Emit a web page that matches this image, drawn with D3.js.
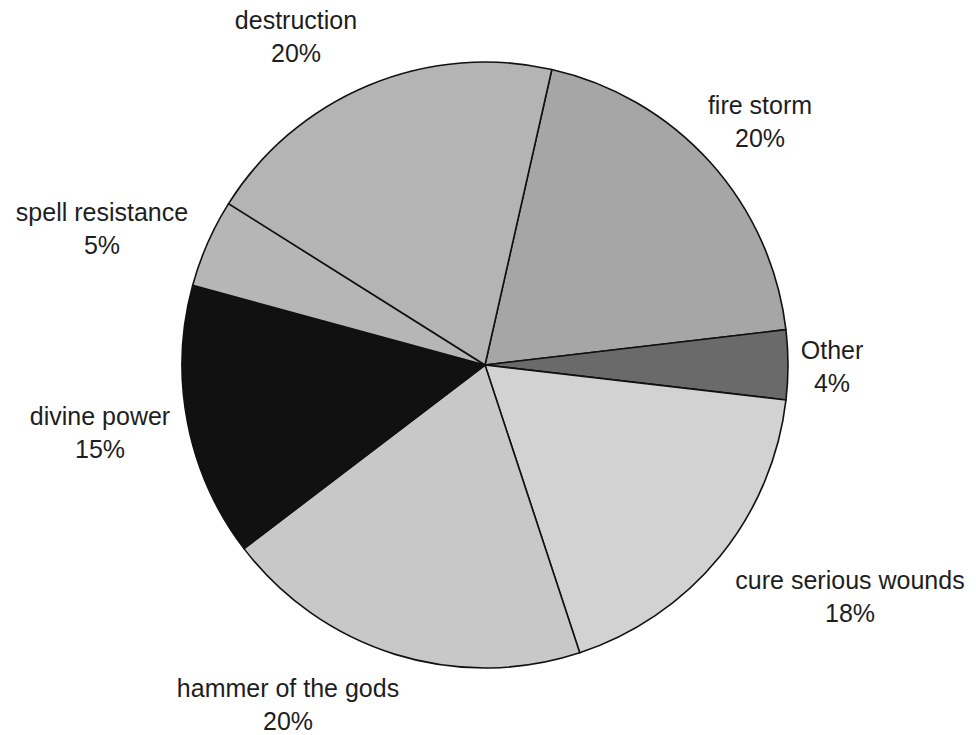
<!DOCTYPE html>
<html>
<head>
<meta charset="utf-8">
<script src="https://cdn.jsdelivr.net/npm/d3@7"></script>
<style>
  html, body { margin: 0; padding: 0; background: #fff; }
  svg { display: block; }
  text { font-family: "Liberation Sans", Arial, sans-serif; fill: #1e1e1e; }
</style>
</head>
<body>
<svg id="chart" width="976" height="735"></svg>
<script>
// Spell usage shares, clockwise from the top
const spells = ["fire storm", "Other", "cure serious wounds", "hammer of the gods",
                "divine power", "spell resistance", "destruction"];
const shares = [19.6, 3.7, 18.1, 19.7, 14.6, 4.7, 19.6];
const fills  = ["#a6a6a6", "#6a6a6a", "#d2d2d2", "#c8c8c8", "#111111", "#b6b6b6", "#b4b4b4"];

// Label anchor points (centre of the two-line label) per slice
const labelPos = [[760, 122], [832, 367], [850, 597], [288, 705], [100, 433], [102, 229], [296, 37]];

const svg = d3.select("#chart");
const cx = 485, cy = 365, radius = 303;

const data = spells.map((name, i) => ({ name, value: shares[i], fill: fills[i], pos: labelPos[i] }));
const total = d3.sum(shares);

const pie = d3.pie()
  .sort(null)
  .value(d => d.value)
  .startAngle(12.74 * Math.PI / 180)
  .endAngle(12.74 * Math.PI / 180 + 2 * Math.PI);

const arc = d3.arc().innerRadius(0).outerRadius(radius);

const g = svg.append("g").attr("transform", `translate(${cx},${cy})`);

g.selectAll("path")
  .data(pie(data))
  .join("path")
  .attr("d", arc)
  .attr("fill", d => d.data.fill)
  .attr("stroke", "#111")
  .attr("stroke-width", 1.6)
  .attr("stroke-linejoin", "round");

const labels = svg.selectAll("g.label")
  .data(data)
  .join("g")
  .attr("class", "label")
  .attr("transform", d => `translate(${d.pos[0]},${d.pos[1]})`);

labels.append("text")
  .attr("text-anchor", "middle")
  .attr("y", -8)
  .attr("font-size", 25)
  .text(d => d.name);

labels.append("text")
  .attr("text-anchor", "middle")
  .attr("y", 25)
  .attr("font-size", 25)
  .text(d => Math.round(d.value / total * 100) + "%");
</script>
</body>
</html>
